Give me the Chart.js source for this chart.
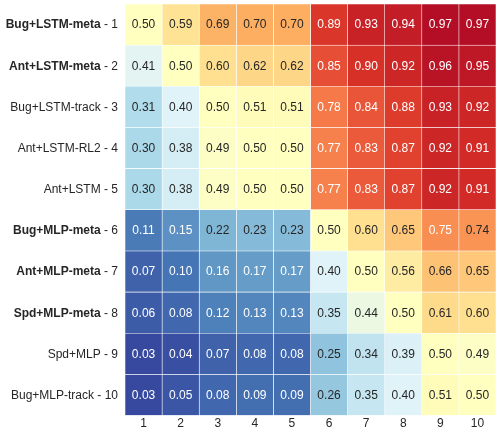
<!DOCTYPE html>
<html>
<head>
<meta charset="utf-8">
<script src="https://cdn.jsdelivr.net/npm/chart.js@4.4.1/dist/chart.umd.min.js"></script>
<style>
  body { margin: 0; background: #fff; }
  canvas { display: block; }
</style>
</head>
<body>
<canvas id="heat" width="496" height="432"></canvas>
<script>
// row names, bold flag, column labels, values
const rowNames = ["Bug+LSTM-meta", "Ant+LSTM-meta", "Bug+LSTM-track", "Ant+LSTM-RL2", "Ant+LSTM",
                  "Bug+MLP-meta", "Ant+MLP-meta", "Spd+MLP-meta", "Spd+MLP", "Bug+MLP-track"];
const rowBold = [true, true, false, false, false, true, true, true, false, false];
const colLabels = ["1", "2", "3", "4", "5", "6", "7", "8", "9", "10"];
const values = [
    [0.50, 0.59, 0.69, 0.70, 0.70, 0.89, 0.93, 0.94, 0.97, 0.97],
    [0.41, 0.50, 0.60, 0.62, 0.62, 0.85, 0.90, 0.92, 0.96, 0.95],
    [0.31, 0.40, 0.50, 0.51, 0.51, 0.78, 0.84, 0.88, 0.93, 0.92],
    [0.30, 0.38, 0.49, 0.50, 0.50, 0.77, 0.83, 0.87, 0.92, 0.91],
    [0.30, 0.38, 0.49, 0.50, 0.50, 0.77, 0.83, 0.87, 0.92, 0.91],
    [0.11, 0.15, 0.22, 0.23, 0.23, 0.50, 0.60, 0.65, 0.75, 0.74],
    [0.07, 0.10, 0.16, 0.17, 0.17, 0.40, 0.50, 0.56, 0.66, 0.65],
    [0.06, 0.08, 0.12, 0.13, 0.13, 0.35, 0.44, 0.50, 0.61, 0.60],
    [0.03, 0.04, 0.07, 0.08, 0.08, 0.25, 0.34, 0.39, 0.50, 0.49],
    [0.03, 0.05, 0.08, 0.09, 0.09, 0.26, 0.35, 0.40, 0.51, 0.50]
];

const FONT = "'Liberation Sans', Arial, sans-serif";
const DARK = "#262626";

// RdYlBu reversed, 0 -> blue, 1 -> red
const stops = ["#313695", "#4575b4", "#74add1", "#abd9e9", "#e0f3f8", "#ffffbf",
               "#fee090", "#fdae61", "#f46d43", "#d73027", "#a50026"].map(h => [
    parseInt(h.slice(1, 3), 16), parseInt(h.slice(3, 5), 16), parseInt(h.slice(5, 7), 16)]);

const cmap = (v) => {
    const t = Math.min(Math.max(v, 0), 1) * (stops.length - 1);
    const i = Math.min(Math.floor(t), stops.length - 2);
    const f = t - i;
    return stops[i].map((c, k) => Math.round(c + (stops[i + 1][k] - c) * f));
};

const textColor = (v) => {
    const lin = cmap(v).map(c => {
        c /= 255;
        return c <= 0.03928 ? c / 12.92 : Math.pow((c + 0.055) / 1.055, 2.4);
    });
    const lum = 0.2126 * lin[0] + 0.7152 * lin[1] + 0.0722 * lin[2];
    return lum > 0.408 ? DARK : "#ffffff";
};

// one dataset per column, horizontal floating bars spanning [c, c+1]
const datasets = colLabels.map((_, c) => ({
    label: colLabels[c],
    data: rowNames.map(() => [c, c + 1]),
    backgroundColor: rowNames.map((_, r) => "rgb(" + cmap(values[r][c]).join(",") + ")"),
    borderColor: "#ffffff",
    borderWidth: 0.6,
    borderSkipped: false,
    grouped: false,
    barPercentage: 1,
    categoryPercentage: 1
}));

const cellText = {
    id: "cellText",
    afterDatasetsDraw(chart) {
        const ctx = chart.ctx;
        ctx.save();
        ctx.font = "12px " + FONT;
        ctx.textAlign = "center";
        ctx.textBaseline = "middle";
        chart.data.datasets.forEach((ds, c) => {
            chart.getDatasetMeta(c).data.forEach((bar, r) => {
                const p = bar.getCenterPoint();
                ctx.fillStyle = textColor(values[r][c]);
                ctx.fillText(values[r][c].toFixed(2), p.x, p.y + 0.5);
            });
        });
        ctx.restore();
    }
};

// row labels: name (bold for some) followed by " - n"
const rowText = {
    id: "rowText",
    afterDraw(chart) {
        const ctx = chart.ctx;
        const yScale = chart.scales.y;
        const right = chart.chartArea.left - 7;
        ctx.save();
        ctx.textBaseline = "middle";
        ctx.textAlign = "left";
        ctx.fillStyle = DARK;
        rowNames.forEach((name, r) => {
            const y = yScale.getPixelForValue(r) + 0.5;
            const tail = " - " + (r + 1);
            ctx.font = "12px " + FONT;
            const wTail = ctx.measureText(tail).width;
            ctx.font = (rowBold[r] ? "bold " : "") + "12px " + FONT;
            const wName = ctx.measureText(name).width;
            ctx.fillText(name, right - wTail - wName, y);
            ctx.font = "12px " + FONT;
            ctx.fillText(tail, right - wTail, y);
        });
        ctx.restore();
    }
};

new Chart(document.getElementById("heat"), {
    type: "bar",
    data: { labels: rowNames, datasets: datasets },
    plugins: [cellText, rowText],
    options: {
        indexAxis: "y",
        responsive: false,
        animation: false,
        layout: { padding: { left: 125, top: 4, right: 0, bottom: 0 } },
        plugins: { legend: { display: false }, tooltip: { enabled: false } },
        scales: {
            x: {
                type: "linear",
                min: 0,
                max: colLabels.length,
                grid: { display: false, drawTicks: false },
                border: { display: false },
                afterBuildTicks: (axis) => {
                    axis.ticks = colLabels.map((_, i) => ({ value: i + 0.5 }));
                },
                ticks: {
                    autoSkip: false,
                    maxRotation: 0,
                    padding: 1,
                    color: DARK,
                    font: { family: FONT, size: 12 },
                    callback: (v, i) => colLabels[i]
                }
            },
            y: {
                type: "category",
                grid: { display: false, drawTicks: false },
                border: { display: false },
                ticks: { display: false }
            }
        }
    }
});
</script>
</body>
</html>
